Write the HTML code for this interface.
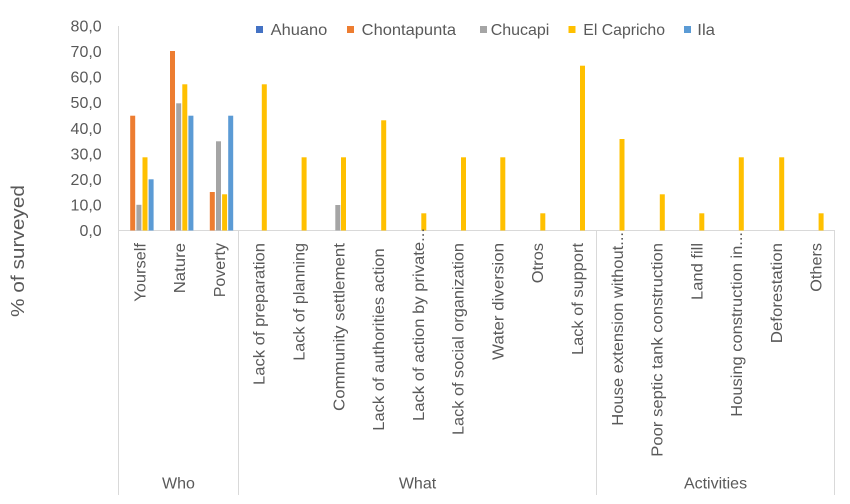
<!DOCTYPE html>
<html><head><meta charset="utf-8"><style>
html,body{margin:0;padding:0;background:#fff;}
svg{display:block;}
text{font-family:"Liberation Sans",Arial,sans-serif;fill:#595959;}
</style></head><body>
<svg width="850" height="504" viewBox="0 0 850 504" xmlns="http://www.w3.org/2000/svg">
<rect width="850" height="504" fill="#fff"/>
<!-- axes -->
<g stroke="#D9D9D9" stroke-width="1" fill="none">
<line x1="118.5" y1="26" x2="118.5" y2="495"/>
<line x1="118" y1="230.5" x2="835" y2="230.5"/>
<line x1="238.5" y1="230.5" x2="238.5" y2="495"/>
<line x1="596.5" y1="230.5" x2="596.5" y2="495"/>
<line x1="834.5" y1="230.5" x2="834.5" y2="495"/>
</g>
<!-- y tick labels -->
<g font-size="16" text-anchor="end">
<text x="101.7" y="31.5">80,0</text>
<text x="101.7" y="57.1">70,0</text>
<text x="101.7" y="82.6">60,0</text>
<text x="101.7" y="108.2">50,0</text>
<text x="101.7" y="133.8">40,0</text>
<text x="101.7" y="159.3">30,0</text>
<text x="101.7" y="184.9">20,0</text>
<text x="101.7" y="210.4">10,0</text>
<text x="101.7" y="236">0,0</text>
</g>
<!-- y title -->
<text transform="translate(24,317) rotate(-90)" font-size="18" textLength="132" lengthAdjust="spacingAndGlyphs">% of surveyed</text>
<!-- legend -->
<g font-size="16">
<rect x="256" y="26" width="7" height="7" fill="#4472C4"/><text x="270.7" y="35" textLength="56.6" lengthAdjust="spacingAndGlyphs">Ahuano</text>
<rect x="347" y="26" width="7" height="7" fill="#ED7D31"/><text x="361.7" y="35" textLength="94.3" lengthAdjust="spacingAndGlyphs">Chontapunta</text>
<rect x="480" y="26" width="7" height="7" fill="#A5A5A5"/><text x="490.7" y="35" textLength="58.6" lengthAdjust="spacingAndGlyphs">Chucapi</text>
<rect x="568.5" y="26" width="7" height="7" fill="#FFC000"/><text x="583.3" y="35" textLength="81.7" lengthAdjust="spacingAndGlyphs">El Capricho</text>
<rect x="684" y="26" width="7" height="7" fill="#5B9BD5"/><text x="697.3" y="35" textLength="17.7" lengthAdjust="spacingAndGlyphs">Ila</text>
</g>
<!-- bars -->
<g>
<!-- Yourself -->
<rect x="130.2" y="115.7" width="5" height="114.8" fill="#ED7D31"/>
<rect x="136.4" y="204.8" width="5" height="25.7" fill="#A5A5A5"/>
<rect x="142.5" y="157.3" width="5" height="73.2" fill="#FFC000"/>
<rect x="148.6" y="179.3" width="5" height="51.2" fill="#5B9BD5"/>
<!-- Nature -->
<rect x="170.0" y="51" width="5" height="179.5" fill="#ED7D31"/>
<rect x="176.2" y="103.3" width="5" height="127.2" fill="#A5A5A5"/>
<rect x="182.3" y="84.3" width="5" height="146.2" fill="#FFC000"/>
<rect x="188.4" y="115.7" width="5" height="114.8" fill="#5B9BD5"/>
<!-- Poverty -->
<rect x="209.8" y="192" width="5" height="38.5" fill="#ED7D31"/>
<rect x="216.0" y="141.3" width="5" height="89.2" fill="#A5A5A5"/>
<rect x="222.1" y="194.3" width="5" height="36.2" fill="#FFC000"/>
<rect x="228.2" y="115.7" width="5" height="114.8" fill="#5B9BD5"/>
<!-- What / Activities -->
<rect x="261.8" y="84.3" width="5" height="146.2" fill="#FFC000"/>
<rect x="301.6" y="157.3" width="5" height="73.2" fill="#FFC000"/>
<rect x="335.3" y="205" width="5" height="25.5" fill="#A5A5A5"/>
<rect x="341.0" y="157.3" width="5" height="73.2" fill="#FFC000"/>
<rect x="381.2" y="120.3" width="5" height="110.2" fill="#FFC000"/>
<rect x="421.3" y="213.3" width="5" height="17.2" fill="#FFC000"/>
<rect x="461.0" y="157.3" width="5" height="73.2" fill="#FFC000"/>
<rect x="500.3" y="157.3" width="5" height="73.2" fill="#FFC000"/>
<rect x="540.3" y="213.3" width="5" height="17.2" fill="#FFC000"/>
<rect x="580.0" y="65.7" width="5" height="164.8" fill="#FFC000"/>
<rect x="619.5" y="139" width="5" height="91.5" fill="#FFC000"/>
<rect x="659.8" y="194.3" width="5" height="36.2" fill="#FFC000"/>
<rect x="699.3" y="213.3" width="5" height="17.2" fill="#FFC000"/>
<rect x="738.8" y="157.3" width="5" height="73.2" fill="#FFC000"/>
<rect x="779.2" y="157.3" width="5" height="73.2" fill="#FFC000"/>
<rect x="818.6" y="213.3" width="5" height="17.2" fill="#FFC000"/>
</g>
<!-- category labels -->
<g font-size="16" lengthAdjust="spacingAndGlyphs">
<text transform="translate(145.4,301.7) rotate(-90)" textLength="58.7" lengthAdjust="spacingAndGlyphs">Yourself</text>
<text transform="translate(185.2,293.3) rotate(-90)" textLength="50.3" lengthAdjust="spacingAndGlyphs">Nature</text>
<text transform="translate(225.0,297.3) rotate(-90)" textLength="54.3" lengthAdjust="spacingAndGlyphs">Poverty</text>
<text transform="translate(264.7,385) rotate(-90)" textLength="142" lengthAdjust="spacingAndGlyphs">Lack of preparation</text>
<text transform="translate(304.5,360.7) rotate(-90)" textLength="117.7" lengthAdjust="spacingAndGlyphs">Lack of planning</text>
<text transform="translate(344.3,411) rotate(-90)" textLength="168" lengthAdjust="spacingAndGlyphs">Community settlement</text>
<text transform="translate(384.1,430.7) rotate(-90)" textLength="182.4" lengthAdjust="spacingAndGlyphs">Lack of authorities action</text>
<text transform="translate(423.9,421) rotate(-90)" textLength="193" lengthAdjust="spacingAndGlyphs">Lack of action by private...</text>
<text transform="translate(463.6,435) rotate(-90)" textLength="192" lengthAdjust="spacingAndGlyphs">Lack of social organization</text>
<text transform="translate(503.4,360) rotate(-90)" textLength="117" lengthAdjust="spacingAndGlyphs">Water diversion</text>
<text transform="translate(543.2,283.3) rotate(-90)" textLength="40.3" lengthAdjust="spacingAndGlyphs">Otros</text>
<text transform="translate(583.0,355) rotate(-90)" textLength="112" lengthAdjust="spacingAndGlyphs">Lack of support</text>
<text transform="translate(622.8,425.7) rotate(-90)" textLength="193.7" lengthAdjust="spacingAndGlyphs">House extension without...</text>
<text transform="translate(662.6,456.7) rotate(-90)" textLength="213.7" lengthAdjust="spacingAndGlyphs">Poor septic tank construction</text>
<text transform="translate(702.3,300) rotate(-90)" textLength="57" lengthAdjust="spacingAndGlyphs">Land fill</text>
<text transform="translate(742.1,416.7) rotate(-90)" textLength="184.7" lengthAdjust="spacingAndGlyphs">Housing construction in...</text>
<text transform="translate(781.9,343.3) rotate(-90)" textLength="100.3" lengthAdjust="spacingAndGlyphs">Deforestation</text>
<text transform="translate(821.7,291.7) rotate(-90)" textLength="48.7" lengthAdjust="spacingAndGlyphs">Others</text>
</g>
<!-- group labels -->
<g font-size="16" text-anchor="middle">
<text x="178.5" y="488.3">Who</text>
<text x="417.5" y="488.3">What</text>
<text x="715.5" y="488.3">Activities</text>
</g>
</svg>
</body></html>
